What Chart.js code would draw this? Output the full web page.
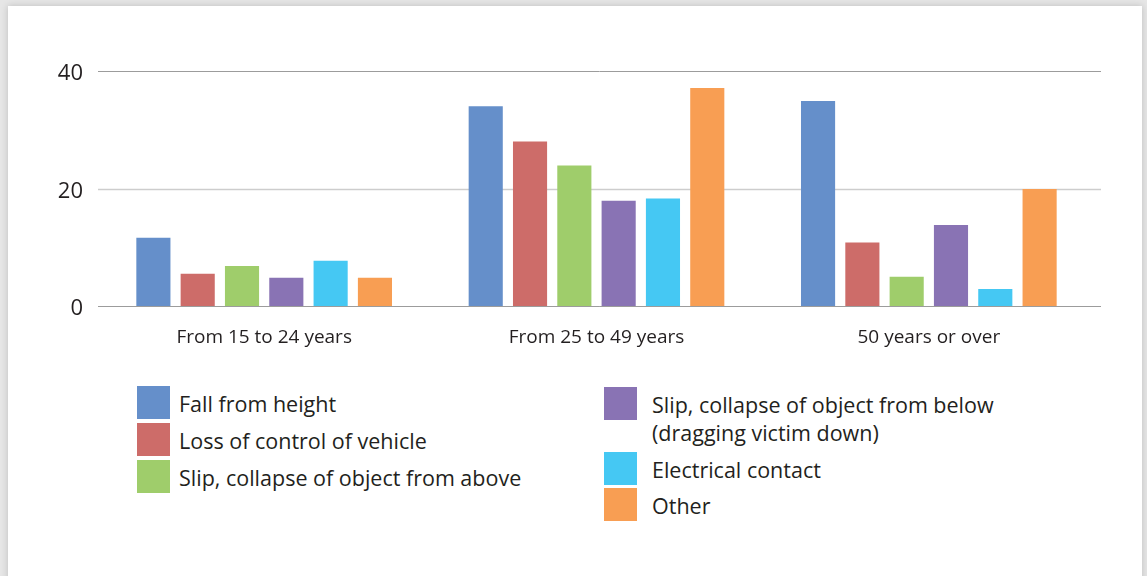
<!DOCTYPE html>
<html>
<head>
<meta charset="utf-8">
<script src="https://cdn.jsdelivr.net/npm/chart.js@4"></script>
<style>
  html, body { margin: 0; padding: 0; }
  body { width: 1147px; height: 576px; background: #e6e6e6; position: relative; overflow: hidden;
         font-family: "Open Sans", "Noto Sans", sans-serif; color: #231f20; }
  #card { position: absolute; left: 8px; top: 6px; width: 1134px; height: 620px; background: #fff;
          box-shadow: 0 0 7px rgba(0,0,0,0.18); }
  #chart { position: absolute; left: 0; top: 0; }
  .sw { position: absolute; width: 33px; height: 33px; }
  .lbl { position: absolute; font-size: 21.5px; line-height: 28px; white-space: nowrap; }
</style>
</head>
<body>
<div id="card"></div>
<canvas id="chart" width="1147" height="370"></canvas>
<div id="legend"></div>
<script>
const categories = ['From 15 to 24 years', 'From 25 to 49 years', '50 years or over'];

const seriesNames = [
  'Fall from height',
  'Loss of control of vehicle',
  'Slip, collapse of object from above',
  'Slip, collapse of object from below\n(dragging victim down)',
  'Electrical contact',
  'Other'
];

const fallFromHeight = [11.6, 34.0, 34.9];
const lossOfControl = [5.5, 28.0, 10.8];
const slipAbove = [6.8, 23.9, 5.0];
const slipBelow = [4.8, 17.9, 13.8];
const electrical = [7.7, 18.3, 2.9];
const other = [4.8, 37.1, 19.9];

const yTicks = [0, 20, 40];

const colors = ['#658fca', '#cd6c69', '#9fcd6b', '#8973b4', '#45c8f3', '#f89e53'];

const seriesValues = [fallFromHeight, lossOfControl, slipAbove, slipBelow, electrical, other];

// horizontal lines run a bit past the last group, like the original
const longGrid = {
  id: 'longGrid',
  beforeDatasetsDraw(chart) {
    const ctx = chart.ctx;
    const y = chart.scales.y;
    const area = chart.chartArea;
    ctx.save();
    for (const v of yTicks) {
      const py = Math.round(y.getPixelForValue(v)) + 0.5;
      ctx.strokeStyle = v === 20 ? '#cdcdcd' : '#9c9c9c';
      ctx.lineWidth = v === 20 ? 1.5 : 1;
      ctx.beginPath();
      ctx.moveTo(area.left, py);
      ctx.lineTo(area.right + 6, py);
      ctx.stroke();
    }
    ctx.restore();
  },
  afterDatasetsDraw(chart) {
    const ctx = chart.ctx;
    const py = Math.round(chart.scales.y.getPixelForValue(0)) + 0.5;
    ctx.save();
    ctx.strokeStyle = '#9c9c9c';
    ctx.lineWidth = 1;
    ctx.beginPath();
    ctx.moveTo(chart.chartArea.left, py);
    ctx.lineTo(chart.chartArea.right + 6, py);
    ctx.stroke();
    ctx.restore();
  }
};

new Chart(document.getElementById('chart'), {
  type: 'bar',
  data: {
    labels: categories,
    datasets: seriesNames.map((name, i) => ({
      label: name,
      data: seriesValues[i],
      backgroundColor: colors[i],
      borderWidth: 0,
      categoryPercentage: 0.8,
      barPercentage: 0.77
    }))
  },
  options: {
    responsive: false,
    animation: false,
    devicePixelRatio: 1,
    layout: { padding: { top: 71, right: 52, bottom: 0, left: 0 } },
    plugins: { legend: { display: false }, tooltip: { enabled: false } },
    scales: {
      x: {
        grid: { display: false, drawTicks: false },
        border: { display: false },
        ticks: { color: '#231f20', padding: 20, font: { family: 'Open Sans', size: 19 } },
        afterFit: s => { s.height = 64; }
      },
      y: {
        min: 0,
        max: 40,
        grid: { display: false, drawTicks: false },
        border: { display: false },
        ticks: { stepSize: 20, color: '#231f20', padding: 15, labelOffset: 3,
                 font: { family: 'Open Sans', size: 22 } },
        afterBuildTicks: s => { s.ticks = yTicks.map(v => ({ value: v })); },
        afterFit: s => { s.width = 98; }
      }
    }
  },
  plugins: [longGrid]
});

// legend: two columns of swatches
const legendSpots = [
  { sx: 137, sy: 386, tx: 179 },
  { sx: 137, sy: 423, tx: 179 },
  { sx: 137, sy: 460, tx: 179 },
  { sx: 604, sy: 387, tx: 652 },
  { sx: 604, sy: 452, tx: 652 },
  { sx: 604, sy: 488, tx: 652 }
];
const legend = document.getElementById('legend');
seriesNames.forEach((name, i) => {
  const p = legendSpots[i];
  const sw = document.createElement('div');
  sw.className = 'sw';
  sw.style.left = p.sx + 'px';
  sw.style.top = p.sy + 'px';
  sw.style.background = colors[i];
  legend.appendChild(sw);
  const lbl = document.createElement('div');
  lbl.className = 'lbl';
  lbl.style.left = p.tx + 'px';
  lbl.style.top = (p.sy + 4) + 'px';
  lbl.innerHTML = name.replace('\n', '<br>');
  legend.appendChild(lbl);
});
</script>
</body>
</html>
